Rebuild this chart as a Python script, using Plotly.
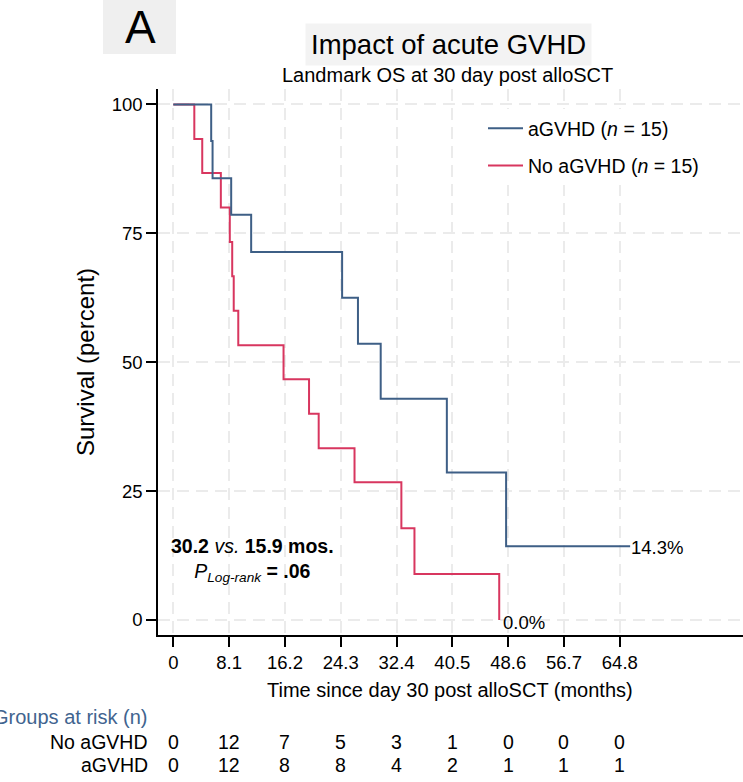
import plotly.graph_objects as go

# ---- data ----
agvhd_t = [0, 5.5, 5.7, 8.4, 11.3, 24.5, 26.8, 30.1, 39.7, 48.3, 66.3]
agvhd_s = [100, 92.9, 85.7, 78.6, 71.4, 62.5, 53.6, 42.9, 28.6, 14.3, 14.3]
noag_t = [0, 3.05, 4.2, 6.9, 8.2, 8.55, 8.77, 9.43, 16.0, 19.7, 21.1, 26.3, 33.1, 35.0, 47.3]
noag_s = [100, 93.3, 86.7, 80.0, 73.3, 66.7, 60.0, 53.3, 46.7, 40.0, 33.3, 26.7, 17.8, 8.9, 0.0]

x_ticks = [0, 8.1, 16.2, 24.3, 32.4, 40.5, 48.6, 56.7, 64.8]
x_ticklabels = ["0", "8.1", "16.2", "24.3", "32.4", "40.5", "48.6", "56.7", "64.8"]
y_ticks = [0, 25, 50, 75, 100]

risk_noag = [0, 12, 7, 5, 3, 1, 0, 0, 0]
risk_agvhd = [0, 12, 8, 8, 4, 2, 1, 1, 1]

BLUE = "#3e5f86"
RED = "#d8365f"
FONT = "Liberation Sans, Arial, sans-serif"

W, H = 743, 782
ML, MR, MT, MB = 158, 0, 89, 147
PW, PH = W - ML - MR, H - MT - MB


def px(x):
    return (x - ML) / PW


def py(y):
    return (H - MB - y) / PH


fig = go.Figure()
fig.add_trace(go.Scatter(x=noag_t, y=noag_s, mode="lines", line_shape="hv",
                         line=dict(color=RED, width=2),
                         name="No aGVHD (<i>n</i> = 15)", legendgroup="b", legendrank=2))
fig.add_trace(go.Scatter(x=agvhd_t, y=agvhd_s, mode="lines", line_shape="hv",
                         line=dict(color=BLUE, width=2),
                         name="aGVHD (<i>n</i> = 15)", legendgroup="a", legendrank=1))

ann = []
# end labels
ann.append(dict(x=agvhd_t[-1], y=agvhd_s[-1], xref="x", yref="y", text=f"{agvhd_s[-1]:.1f}%",
                showarrow=False, xanchor="left", yanchor="middle", xshift=-1, yshift=-1,
                font=dict(size=18.5, color="black", family=FONT)))
ann.append(dict(x=noag_t[-1], y=noag_s[-1], xref="x", yref="y", text=f"{noag_s[-1]:.1f}%",
                showarrow=False, xanchor="left", yanchor="middle", xshift=2, yshift=-2,
                font=dict(size=18.5, color="black", family=FONT)))
# median annotation
ann.append(dict(x=px(252), y=py(560), xref="paper", yref="paper",
                text="<b>30.2</b> <i>vs.</i> <b>15.9 mos.</b><br><i>P</i><sub><i>Log-rank</i></sub><b> = .06</b>",
                showarrow=False, xanchor="center", yanchor="middle", align="center",
                font=dict(size=19.5, color="black", family=FONT)))
# titles
ann.append(dict(x=px(448), y=py(44), xref="paper", yref="paper", text="Impact of acute GVHD",
                showarrow=False, xanchor="center", yanchor="middle", bgcolor="#f3f3f3", borderpad=5,
                font=dict(size=27.5, color="black", family=FONT)))
ann.append(dict(x=px(447), y=py(75), xref="paper", yref="paper", text="Landmark OS at 30 day post alloSCT",
                showarrow=False, xanchor="center", yanchor="middle",
                font=dict(size=20, color="black", family=FONT)))
ann.append(dict(x=px(140), y=py(27), xref="paper", yref="paper", text="A",
                showarrow=False, xanchor="center", yanchor="middle",
                font=dict(size=46, color="black", family=FONT)))
# axis titles
ann.append(dict(x=px(85), y=py(362), xref="paper", yref="paper", text="Survival (percent)",
                showarrow=False, xanchor="center", yanchor="middle", textangle=-90,
                font=dict(size=24, color="black", family=FONT)))
ann.append(dict(x=px(450), y=py(690), xref="paper", yref="paper",
                text="Time since day 30 post alloSCT (months)",
                showarrow=False, xanchor="center", yanchor="middle",
                font=dict(size=20, color="black", family=FONT)))
# risk table
ann.append(dict(x=px(149), y=py(717), xref="paper", yref="paper", text="Groups at risk (n)",
                showarrow=False, xanchor="right", yanchor="middle",
                font=dict(size=20, color="#41648f", family=FONT)))
ann.append(dict(x=px(150), y=py(742), xref="paper", yref="paper", text="No aGVHD",
                showarrow=False, xanchor="right", yanchor="middle",
                font=dict(size=19.5, color="black", family=FONT)))
ann.append(dict(x=px(150), y=py(765), xref="paper", yref="paper", text="aGVHD",
                showarrow=False, xanchor="right", yanchor="middle",
                font=dict(size=19.5, color="black", family=FONT)))
for t, a, b in zip(x_ticks, risk_noag, risk_agvhd):
    ann.append(dict(x=t, y=py(742), xref="x", yref="paper", text=str(a), showarrow=False,
                    xanchor="center", yanchor="middle", font=dict(size=19.5, color="black", family=FONT)))
    ann.append(dict(x=t, y=py(765), xref="x", yref="paper", text=str(b), showarrow=False,
                    xanchor="center", yanchor="middle", font=dict(size=19.5, color="black", family=FONT)))

shapes = [dict(type="rect", xref="paper", yref="paper", x0=px(103), x1=px(176), y0=py(0), y1=py(54),
               fillcolor="#efefef", line=dict(width=0), layer="below")]

axis_common = dict(showline=True, linecolor="black", linewidth=1.5, ticks="outside", ticklen=10,
                   tickwidth=1.5, tickcolor="black", showgrid=True, gridcolor="#ebebeb",
                   gridwidth=1.5, griddash="12px,7px", zeroline=False,
                   tickfont=dict(size=18.5, color="black", family=FONT))

fig.update_layout(
    width=W, height=H,
    margin=dict(l=ML, r=MR, t=MT, b=MB, pad=0),
    paper_bgcolor="white", plot_bgcolor="white",
    font=dict(family=FONT, color="black"),
    xaxis=dict(range=[-2.22, 82.68], tickvals=x_ticks, ticktext=x_ticklabels, **axis_common),
    yaxis=dict(range=[-2.91, 103.0], tickvals=y_ticks, **axis_common),
    showlegend=True,
    legend=dict(x=px(483), y=py(109), xanchor="left", yanchor="top", bgcolor="white",
                traceorder="grouped", tracegroupgap=9, itemwidth=35,
                font=dict(size=19.5, color="black", family=FONT)),
    annotations=ann,
    shapes=shapes,
)

fig.write_html("out.html", config={"displayModeBar": False},
               post_script="document.body.style.margin='0';document.body.style.overflow='hidden';")
